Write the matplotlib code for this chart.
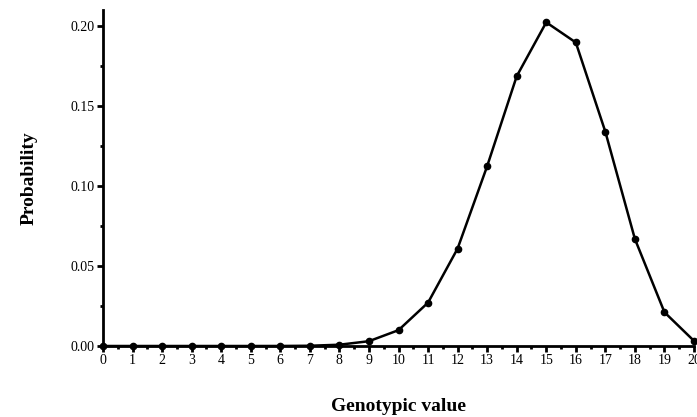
import matplotlib
matplotlib.use("Agg")
import matplotlib.pyplot as plt
from matplotlib.ticker import MultipleLocator

genotypic_value = list(range(0, 21))
probability = [0.0, 0.0, 0.0, 0.0, 0.0, 0.0, 0.00002, 0.00016, 0.0008, 0.003, 0.0099,
               0.0271, 0.0609, 0.1124, 0.1686, 0.2023, 0.1897, 0.1339, 0.0669, 0.0211, 0.0032]

plt.rcParams['font.family'] = ['Liberation Serif', 'DejaVu Serif']

fig = plt.figure(figsize=(6.97, 4.17), dpi=100)
ax = fig.add_axes([103/697, 1-346/417, (694-103)/697, (346-10)/417])
ax.plot(genotypic_value, probability, color='black', lw=1.8, marker='o', ms=4.5, clip_on=False, zorder=3)
ax.set_xlim(0, 20)
ax.set_ylim(0, 0.21)
ax.spines['top'].set_visible(False)
ax.spines['right'].set_visible(False)
for s in ['left', 'bottom']:
    ax.spines[s].set_linewidth(2)
ax.xaxis.set_major_locator(MultipleLocator(1))
ax.xaxis.set_minor_locator(MultipleLocator(0.5))
ax.yaxis.set_major_locator(MultipleLocator(0.05))
ax.yaxis.set_minor_locator(MultipleLocator(0.025))
ax.set_yticks([0, 0.05, 0.10, 0.15, 0.20])
ax.set_yticklabels(['0.00', '0.05', '0.10', '0.15', '0.20'])
ax.tick_params(which='major', direction='out', length=4, width=2, labelsize=10, pad=2)
ax.tick_params(which='minor', direction='out', length=2.5, width=2)
ax.set_xlabel('Genotypic value', fontsize=14, fontweight='bold', labelpad=22)
ax.set_ylabel('Probability', fontsize=14, fontweight='bold', labelpad=24)
fig.savefig('out.png', dpi=100)
